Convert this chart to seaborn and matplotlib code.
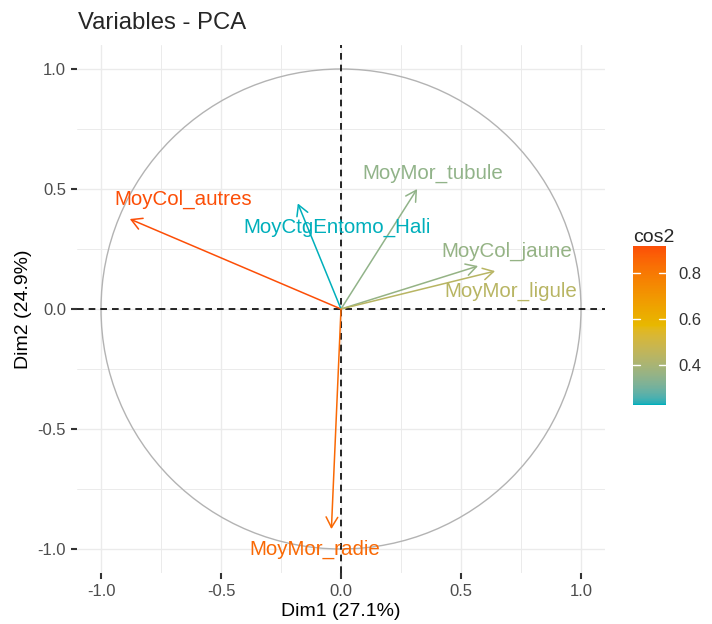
import numpy as np
import matplotlib
matplotlib.use("Agg")
import matplotlib.pyplot as plt
from matplotlib.colors import Normalize, ListedColormap, to_rgb
from matplotlib.cm import ScalarMappable
from matplotlib.patches import Circle
from matplotlib.ticker import MultipleLocator
import seaborn as sns

# variable coordinates on Dim1 / Dim2
variables = ["MoyCol_autres", "MoyCtgEntomo_Hali", "MoyMor_tubule",
             "MoyCol_jaune", "MoyMor_ligule", "MoyMor_radie"]
dim1 = [-0.88, -0.18, 0.317, 0.571, 0.642, -0.04]
dim2 = [0.375, 0.44, 0.50, 0.179, 0.158, -0.917]
cos2 = [x * x + y * y for x, y in zip(dim1, dim2)]

x_label = "Dim1 (27.1%)"
y_label = "Dim2 (24.9%)"
title = "Variables - PCA"
ticks = [-1.0, -0.5, 0.0, 0.5, 1.0]
cbar_ticks = [0.4, 0.6, 0.8]
gradient = ["#00AFBB", "#E7B800", "#FC4E07"]

# where the repelled text labels sit (centre of text)
LABEL_XY = {
    "MoyCol_autres": (-0.658, 0.458),
    "MoyCtgEntomo_Hali": (-0.017, 0.342),
    "MoyMor_tubule": (0.383, 0.567),
    "MoyCol_jaune": (0.692, 0.242),
    "MoyMor_ligule": (0.708, 0.075),
    "MoyMor_radie": (-0.108, -1.0),
}

# ggplot interpolates gradients in Lab space, so do the same
M = np.array([[0.4124, 0.3576, 0.1805], [0.2126, 0.7152, 0.0722], [0.0193, 0.1192, 0.9505]])
WP = np.array([0.95047, 1.0, 1.08883])

def to_lab(rgb):
    c = np.asarray(rgb)
    lin = np.where(c <= 0.04045, c / 12.92, ((c + 0.055) / 1.055) ** 2.4)
    xyz = M @ lin / WP
    f = np.where(xyz > 216 / 24389, np.cbrt(xyz), (24389 / 27 * xyz + 16) / 116)
    return np.array([116 * f[1] - 16, 500 * (f[0] - f[1]), 200 * (f[1] - f[2])])

def from_lab(lab):
    L, a, b = lab
    fy = (L + 16) / 116; fx = fy + a / 500; fz = fy - b / 200
    f = np.array([fx, fy, fz])
    xyz = np.where(f ** 3 > 216 / 24389, f ** 3, (116 * f - 16) / (24389 / 27)) * WP
    lin = np.linalg.solve(M, xyz)
    c = np.where(lin <= 0.0031308, 12.92 * lin, 1.055 * np.clip(lin, 0, None) ** (1 / 2.4) - 0.055)
    return np.clip(c, 0, 1)

labs = [to_lab(to_rgb(h)) for h in gradient]
cols = []
for t in np.linspace(0, 1, 256):
    seg = min(int(t * 2), 1); u = t * 2 - seg
    cols.append(from_lab(labs[seg] * (1 - u) + labs[seg + 1] * u))
cmap = ListedColormap(cols)
norm = Normalize(min(cos2), max(cos2))

sns.set_theme(style="whitegrid")
plt.rcParams["font.family"] = ["Liberation Sans", "DejaVu Sans"]

fig = plt.figure(figsize=(7.12, 6.24), dpi=100)
ax = fig.add_axes([77 / 712, 1 - 573 / 624, 528 / 712, 528 / 624])
ax.set_facecolor("white")
ax.set_xlim(-1.1, 1.1); ax.set_ylim(-1.1, 1.1)
ax.set_aspect("equal")
for s in ax.spines.values():
    s.set_visible(False)

ax.xaxis.set_minor_locator(MultipleLocator(0.25)); ax.yaxis.set_minor_locator(MultipleLocator(0.25))
ax.set_xticks(ticks); ax.set_yticks(ticks)
ax.set_xticklabels([f"{t:.1f}" for t in ticks]); ax.set_yticklabels([f"{t:.1f}" for t in ticks])
ax.grid(which="major", color="#EBEBEB", lw=1.0)
ax.grid(which="minor", color="#EBEBEB", lw=0.7)
ax.set_axisbelow(True)
ax.tick_params(which="major", length=4, width=1.5, color="#333333", labelsize=12,
               labelcolor="#4D4D4D", pad=4, bottom=True, left=True)
ax.tick_params(which="minor", length=0)

ax.add_patch(Circle((0, 0), 1, fill=False, ec="#B3B3B3", lw=1.0, zorder=2))
ax.axhline(0, color="black", lw=1.2, ls=(0, (4, 3)), zorder=3)
ax.axvline(0, color="black", lw=1.2, ls=(0, (4, 3)), zorder=3)

for name, x, y, c in zip(variables, dim1, dim2, cos2):
    col = cmap(norm(c))
    ax.annotate("", xy=(x, y), xytext=(0, 0),
                arrowprops=dict(arrowstyle="->,head_length=0.5,head_width=0.28",
                                color=col, lw=1.1, shrinkA=0, shrinkB=0,
                                mutation_scale=15), zorder=4)
    lx, ly = LABEL_XY[name]
    ax.text(lx, ly, name, color=col, fontsize=14.8, ha="center", va="center", zorder=5)

ax.set_xlabel(x_label, fontsize=14, color="black", labelpad=3)
ax.set_ylabel(y_label, fontsize=14, color="black", labelpad=4)
fig.text(78 / 712, 1 - 23 / 624, title, fontsize=17.2, ha="left", va="center")

# colour bar
cax = fig.add_axes([633 / 712, 1 - 405 / 624, 33 / 712, 159 / 624])
cb = fig.colorbar(ScalarMappable(norm=norm, cmap=cmap), cax=cax, ticks=cbar_ticks)
cb.outline.set_visible(False)
cax.tick_params(length=0, labelsize=12, labelcolor="#333333", pad=9)
cax.set_yticklabels([f"{t:.1f}" for t in cbar_ticks])
for t in cbar_ticks:
    cax.plot([0, 0.2], [t, t], color="white", lw=1.0, transform=cax.get_yaxis_transform())
    cax.plot([0.8, 1.0], [t, t], color="white", lw=1.0, transform=cax.get_yaxis_transform())
fig.text(633 / 712, 1 - 238 / 624, "cos2", fontsize=14, ha="left", va="center")

fig.savefig("out.png", dpi=100, facecolor="white")
